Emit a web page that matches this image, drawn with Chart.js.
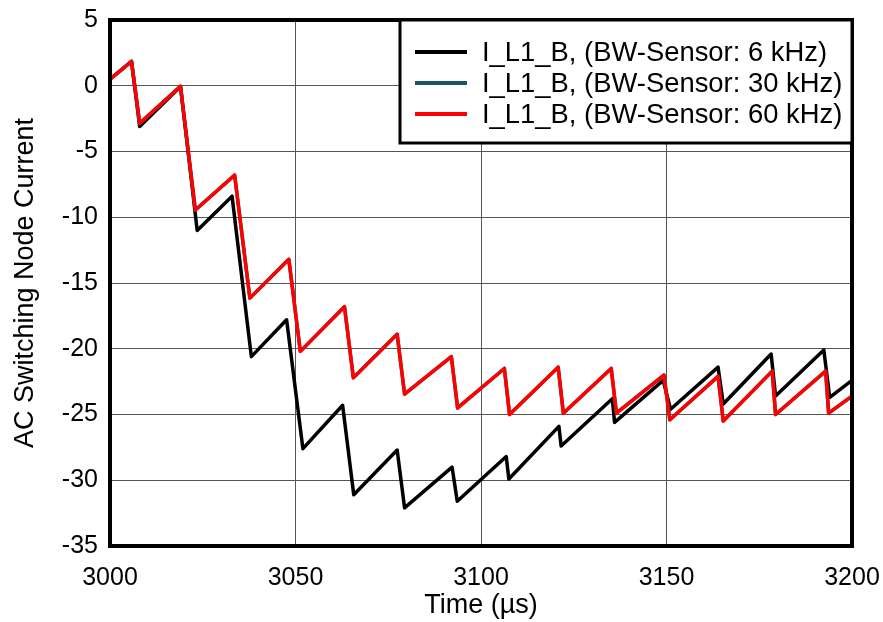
<!DOCTYPE html>
<html>
<head>
<meta charset="utf-8">
<script src="https://cdn.jsdelivr.net/npm/chart.js@4.4.0/dist/chart.umd.min.js"></script>
<style>
  html, body { margin: 0; padding: 0; background: #fff; }
  #wrap { width: 883px; height: 622px; }
</style>
</head>
<body>
<div id="wrap"><canvas id="myChart"></canvas></div>
<script>
// series names and colours
const seriesLabels = ['I_L1_B, (BW-Sensor: 6 kHz)', 'I_L1_B, (BW-Sensor: 30 kHz)', 'I_L1_B, (BW-Sensor: 60 kHz)'];
const seriesColors = ['#000000', '#1a5566', '#ff0000'];

// 6 kHz sensor (black)
const time6k = [3000, 3005.8, 3008.0, 3019.0, 3023.5, 3032.9, 3038.1, 3047.6, 3052.0, 3062.7, 3065.7, 3077.4, 3079.4, 3092.2, 3093.6,
  3106.8, 3107.5, 3121.0, 3121.6, 3135.4, 3136.0, 3149.1, 3151.1, 3163.9, 3165.3, 3178.2, 3179.4, 3192.4, 3194.0, 3200];
const current6k = [0.5, 1.85, -3.1, -0.05, -11.0, -8.4, -20.6, -17.8, -27.6, -24.3, -31.1, -27.7, -32.1, -29.0, -31.6,
  -28.2, -29.9, -25.9, -27.4, -23.8, -25.6, -22.4, -24.6, -21.4, -24.2, -20.4, -23.6, -20.1, -23.7, -22.4];

// 30 kHz sensor (hidden under the 60 kHz trace)
const time30k = [3000, 3005.8, 3008.0, 3019.0, 3023.0, 3033.6, 3037.7, 3048.2, 3051.3, 3063.2, 3065.6, 3077.4, 3079.4, 3092.0, 3093.7,
  3106.3, 3107.7, 3120.8, 3122.2, 3135.1, 3136.5, 3149.3, 3150.9, 3163.9, 3165.3, 3178.5, 3179.4, 3192.9, 3193.7, 3200];
const current30k = [0.5, 1.85, -2.85, -0.05, -9.45, -6.8, -16.15, -13.2, -20.2, -16.8, -22.2, -18.9, -23.45, -20.6, -24.5,
  -21.5, -25.0, -21.4, -24.9, -21.5, -24.9, -22.0, -25.4, -22.1, -25.5, -21.7, -25.0, -21.7, -24.9, -23.6];

// 60 kHz sensor (red)
const time60k = [3000, 3005.8, 3008.0, 3019.0, 3023.0, 3033.6, 3037.7, 3048.2, 3051.3, 3063.2, 3065.6, 3077.4, 3079.4, 3092.0, 3093.7,
  3106.3, 3107.7, 3120.8, 3122.2, 3135.1, 3136.5, 3149.3, 3150.9, 3163.9, 3165.3, 3178.5, 3179.4, 3192.9, 3193.7, 3200];
const current60k = [0.5, 1.85, -2.85, -0.05, -9.45, -6.8, -16.15, -13.2, -20.2, -16.8, -22.2, -18.9, -23.45, -20.6, -24.5,
  -21.5, -25.0, -21.4, -24.9, -21.5, -24.9, -22.0, -25.4, -22.1, -25.5, -21.7, -25.0, -21.7, -24.9, -23.6];

const xTicks = [3000, 3050, 3100, 3150, 3200];
const yTicks = [5, 0, -5, -10, -15, -20, -25, -30, -35];

const FONT = "'Liberation Sans', Arial, sans-serif";

function toPoints(xs, ys) {
  return xs.map((x, i) => ({ x: x, y: ys[i] }));
}

// stop the label overhang from pushing the plot area around
function noScalePadding(s) {
  s.paddingTop = 0;
  s.paddingBottom = 0;
  s.paddingLeft = 0;
  s.paddingRight = 0;
}

// frame + boxed legend in the top right corner of the plot
const frameLegend = {
  id: 'frameLegend',
  afterDraw(chart) {
    const ctx = chart.ctx;
    const a = chart.chartArea;
    ctx.save();
    ctx.strokeStyle = '#000';
    ctx.lineWidth = 4;
    ctx.strokeRect(a.left, a.top, a.right - a.left, a.bottom - a.top);

    const x0 = 400, y0 = a.top, w = a.right - x0, h = 123;
    ctx.fillStyle = '#fff';
    ctx.fillRect(x0, y0, w, h);
    ctx.lineWidth = 3;
    ctx.strokeRect(x0, y0, w, h);

    ctx.font = '27.4px ' + FONT;
    ctx.textBaseline = 'middle';
    chart.data.datasets.forEach((ds, i) => {
      const y = y0 + 32 + i * 31;
      ctx.strokeStyle = ds.borderColor;
      ctx.lineWidth = 4;
      ctx.beginPath();
      ctx.moveTo(415, y);
      ctx.lineTo(467, y);
      ctx.stroke();
      ctx.fillStyle = '#000';
      ctx.fillText(ds.label, 482, y + 1);
    });
    ctx.restore();
  }
};

const ctx = document.getElementById('myChart').getContext('2d');
const myChart = new Chart(ctx, {
  type: 'line',
  data: {
    datasets: [
      { label: seriesLabels[0], data: toPoints(time6k, current6k), borderColor: seriesColors[0], order: 2 },
      { label: seriesLabels[1], data: toPoints(time30k, current30k), borderColor: seriesColors[1], order: 1 },
      { label: seriesLabels[2], data: toPoints(time60k, current60k), borderColor: seriesColors[2], order: 0 }
    ]
  },
  options: {
    responsive: true,
    maintainAspectRatio: false,
    animation: false,
    layout: { padding: { top: 20, right: 31, left: 0, bottom: 0 } },
    elements: {
      line: { borderWidth: 3.5, tension: 0, fill: false, borderJoinStyle: 'round' },
      point: { radius: 0 }
    },
    scales: {
      x: {
        type: 'linear',
        min: 3000,
        max: 3200,
        afterBuildTicks: s => { s.ticks = xTicks.map(v => ({ value: v })); },
        afterFit: s => { s.height = 76; noScalePadding(s); },
        grid: { color: '#555', lineWidth: 1, drawTicks: false },
        border: { display: false },
        ticks: { color: '#000', padding: 17, maxRotation: 0, font: { family: FONT, size: 25 }, callback: v => String(v) },
        title: { display: true, text: 'Time (µs)', color: '#000', padding: 0, font: { family: FONT, size: 27 } }
      },
      y: {
        min: -35,
        max: 5,
        afterBuildTicks: s => { s.ticks = yTicks.map(v => ({ value: v })); },
        afterFit: s => { s.width = 110; noScalePadding(s); },
        grid: { color: '#555', lineWidth: 1, drawTicks: false },
        border: { display: false },
        ticks: { color: '#000', padding: 12, font: { family: FONT, size: 25 }, callback: v => String(v) },
        title: { display: true, text: 'AC Switching Node Current', color: '#000', padding: { top: 9 }, font: { family: FONT, size: 27 } }
      }
    },
    plugins: {
      legend: { display: false },
      tooltip: { enabled: false }
    }
  },
  plugins: [frameLegend]
});
</script>
</body>
</html>
